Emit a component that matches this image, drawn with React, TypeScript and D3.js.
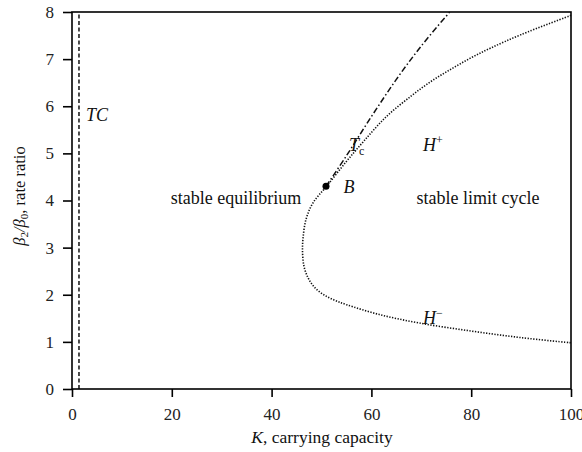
import React, { useEffect, useRef } from 'react';
import * as d3 from 'd3';

// Hopf curve (H+ upper branch, through the nose, H- lower branch): [K, beta2/beta0]
const hopfK = [100, 90, 84, 80, 76, 72, 68, 63, 58.4, 55, 51, 48.3, 46.9, 46.3, 46.2, 46.5, 47.3, 48.5, 50.3, 52.5, 55, 61.6, 69.6, 80, 90, 100];
const hopfB = [7.93, 7.52, 7.24, 7.03, 6.79, 6.53, 6.22, 5.78, 5.25, 4.83, 4.3, 3.95, 3.6, 3.2, 2.9, 2.6, 2.36, 2.17, 2.01, 1.89, 1.79, 1.58, 1.4, 1.23, 1.09, 0.98];

// Tc curve starting at the Bogdanov-Takens point B
const tcK = [50.9, 55, 60, 65, 70, 75.7];
const tcB = [4.3, 4.95, 5.78, 6.57, 7.28, 8.0];

// transcritical line TC
const transK = 1.4;
const pointB = [50.9, 4.3];

const xTicks = [0, 20, 40, 60, 80, 100];
const yTicks = [0, 1, 2, 3, 4, 5, 6, 7, 8];

const W = 582;
const H = 452;
const FONT = "'Liberation Serif', 'DejaVu Serif', serif";

export default function App() {
  const ref = useRef<SVGSVGElement>(null);

  useEffect(() => {
    const svg = d3.select(ref.current);
    svg.selectAll('*').remove();

    const x = d3.scaleLinear().domain([0, 100]).range([72, 571]);
    const y = d3.scaleLinear().domain([0, 8]).range([389, 12]);

    const g = svg.append('g').attr('font-family', FONT);

    // frame
    g.append('rect')
      .attr('x', x(0)).attr('y', y(8))
      .attr('width', x(100) - x(0)).attr('height', y(0) - y(8))
      .attr('fill', 'none').attr('stroke', '#000').attr('stroke-width', 1.6);

    // axes
    const xAxis = g.append('g')
      .attr('transform', `translate(0,${y(0)})`)
      .call(d3.axisBottom(x).tickValues(xTicks).tickSize(8).tickPadding(11).tickFormat(d3.format('d')));
    const yAxis = g.append('g')
      .attr('transform', `translate(${x(0)},0)`)
      .call(d3.axisLeft(y).tickValues(yTicks).tickSize(9).tickPadding(9).tickFormat(d3.format('d')));
    [xAxis, yAxis].forEach(a => {
      a.attr('font-family', FONT).attr('font-size', 17);
      a.select('.domain').remove();
      a.selectAll('line').attr('stroke', '#000').attr('stroke-width', 1.6);
      a.selectAll('text').attr('fill', '#222');
    });

    // TC line
    g.append('line')
      .attr('x1', x(transK)).attr('x2', x(transK))
      .attr('y1', y(0)).attr('y2', y(8))
      .attr('stroke', '#000').attr('stroke-width', 1.4)
      .attr('stroke-dasharray', '4,2.5');

    const line = d3.line<number>()
      .x(d => x(d))
      .curve(d3.curveCatmullRom.alpha(0.5));

    // Hopf curve
    g.append('path')
      .attr('d', line.y((d, i) => y(hopfB[i]))(hopfK))
      .attr('fill', 'none').attr('stroke', '#111').attr('stroke-width', 1.6)
      .attr('stroke-dasharray', '1.3,1.5');

    // Tc curve
    g.append('path')
      .attr('d', line.y((d, i) => y(tcB[i]))(tcK))
      .attr('fill', 'none').attr('stroke', '#111').attr('stroke-width', 1.5)
      .attr('stroke-dasharray', '6,2.5,1.5,2.5');

    // point B
    g.append('circle')
      .attr('cx', x(pointB[0])).attr('cy', y(pointB[1]))
      .attr('r', 3.5).attr('fill', '#000');

    const label = (px: number, py: number, anchor = 'middle', size = 18) =>
      g.append('text').attr('x', px).attr('y', py)
        .attr('text-anchor', anchor).attr('fill', '#111')
        .attr('font-size', size);

    label(236, 204).text('stable equilibrium');
    label(478, 204).text('stable limit cycle');
    label(349, 193).attr('font-style', 'italic').text('B');
    label(86, 121, 'start', 18).attr('font-style', 'italic').text('TC');

    const tc = label(349, 151, 'start', 18);
    tc.append('tspan').attr('font-style', 'italic').text('T');
    tc.append('tspan').attr('dy', 4).attr('font-size', 12).text('c');

    const hp = label(423, 151, 'start', 18);
    hp.append('tspan').attr('font-style', 'italic').text('H');
    hp.append('tspan').attr('dy', -7).attr('font-size', 12).text('+');

    const hm = label(423, 324, 'start', 18);
    hm.append('tspan').attr('font-style', 'italic').text('H');
    hm.append('tspan').attr('dy', -7).attr('font-size', 12).text('\u2212');

    // x label
    const xl = label(322, 443, 'middle', 17.5);
    xl.append('tspan').attr('font-style', 'italic').text('K');
    xl.append('tspan').text(', carrying capacity');

    // y label
    const yl = g.append('text')
      .attr('transform', `translate(25,196) rotate(-90)`)
      .attr('text-anchor', 'middle').attr('fill', '#111')
      .attr('font-size', 16.5);
    yl.append('tspan').attr('font-style', 'italic').text('\u03b2');
    yl.append('tspan').attr('dy', 3).attr('font-size', 11).text('2');
    yl.append('tspan').attr('dy', -3).attr('font-style', 'italic').text('/\u03b2');
    yl.append('tspan').attr('dy', 3).attr('font-size', 11).text('0');
    yl.append('tspan').attr('dy', -3).text(', rate ratio');
  }, []);

  return <svg ref={ref} width={W} height={H} style={{ position: 'absolute', left: 0, top: 0 }} />;
}
